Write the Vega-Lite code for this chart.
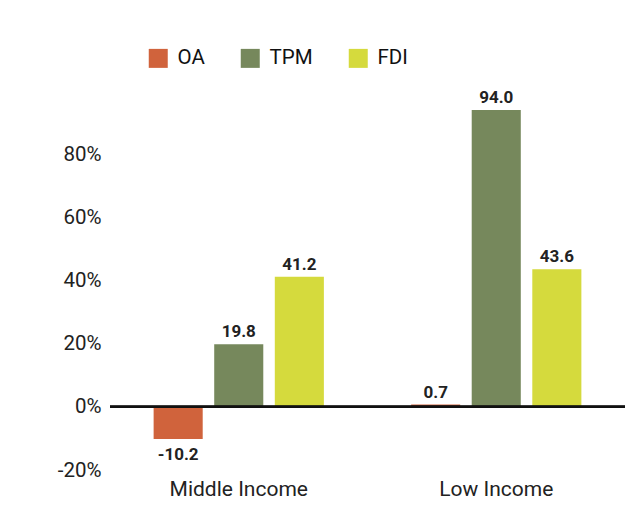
{
  "$schema": "https://vega.github.io/schema/vega-lite/v6.json",
  "autosize": {"type": "none"},
  "width": 515,
  "height": 379,
  "padding": {"left": 110, "top": 91, "right": 19, "bottom": 53},
  "background": "#ffffff",
  "config": {
    "view": {"stroke": null},
    "font": "Roboto",
    "locale": {"number": {"decimal": ".", "thousands": ",", "grouping": [3], "currency": ["$", ""], "minus": "-"}},
    "axis": {"labelFont": "Roboto", "labelColor": "#222222", "labelFontSize": 20.5}
  },
  "data": {
    "values": [
      {"group": "Middle Income", "series": "OA", "value": -10.2},
      {"group": "Middle Income", "series": "TPM", "value": 19.8},
      {"group": "Middle Income", "series": "FDI", "value": 41.2},
      {"group": "Low Income", "series": "OA", "value": 0.7},
      {"group": "Low Income", "series": "TPM", "value": 94.0},
      {"group": "Low Income", "series": "FDI", "value": 43.6}
    ]
  },
  "encoding": {
    "x": {
      "field": "group", "type": "nominal", "sort": ["Middle Income", "Low Income"],
      "scale": {"paddingInner": 0, "paddingOuter": 0},
      "axis": {"title": null, "domain": false, "ticks": false, "labelAngle": 0, "labelPadding": 8, "labelFontSize": 21}
    },
    "xOffset": {
      "field": "series", "type": "nominal", "sort": ["OA", "TPM", "FDI"],
      "scale": {"paddingInner": 0.19, "paddingOuter": 0.72}
    },
    "y": {
      "field": "value", "type": "quantitative",
      "scale": {"domain": [-20, 100], "nice": false},
      "axis": {"title": null, "domain": false, "ticks": false, "grid": false, "values": [-20, 0, 20, 40, 60, 80], "labelExpr": "replace(format(datum.value, 'd'), '−', '-') + '%'", "labelPadding": 9}
    }
  },
  "layer": [
    {
      "mark": {"type": "bar"},
      "encoding": {
        "color": {
          "field": "series", "type": "nominal", "sort": ["OA", "TPM", "FDI"],
          "scale": {"domain": ["OA", "TPM", "FDI"], "range": ["#d0633c", "#76885c", "#d5da3d"]},
          "legend": {
            "title": null, "orient": "none", "direction": "horizontal",
            "legendX": 38, "legendY": -43,
            "symbolType": "square", "symbolSize": 361, "symbolStrokeWidth": 0,
            "labelFontSize": 20.5, "labelColor": "#111111", "labelFont": "Roboto",
            "labelOffset": 9, "columnPadding": 35
          }
        }
      }
    },
    {
      "transform": [{"filter": "datum.value >= 0"}],
      "mark": {"type": "text", "baseline": "alphabetic", "dy": -7, "fontWeight": "bold", "fontSize": 17, "color": "#222222", "font": "Roboto"},
      "encoding": {"text": {"field": "value", "type": "quantitative", "format": ".1f"}}
    },
    {
      "transform": [{"filter": "datum.value < 0"}],
      "mark": {"type": "text", "baseline": "top", "dy": 8, "fontWeight": "bold", "fontSize": 17, "color": "#222222", "font": "Roboto"},
      "encoding": {"text": {"field": "value", "type": "quantitative", "format": ".1f"}}
    },
    {
      "mark": {"type": "rule", "color": "#111111", "strokeWidth": 2},
      "encoding": {"y": {"datum": 0}, "x": null, "xOffset": null}
    }
  ]
}
